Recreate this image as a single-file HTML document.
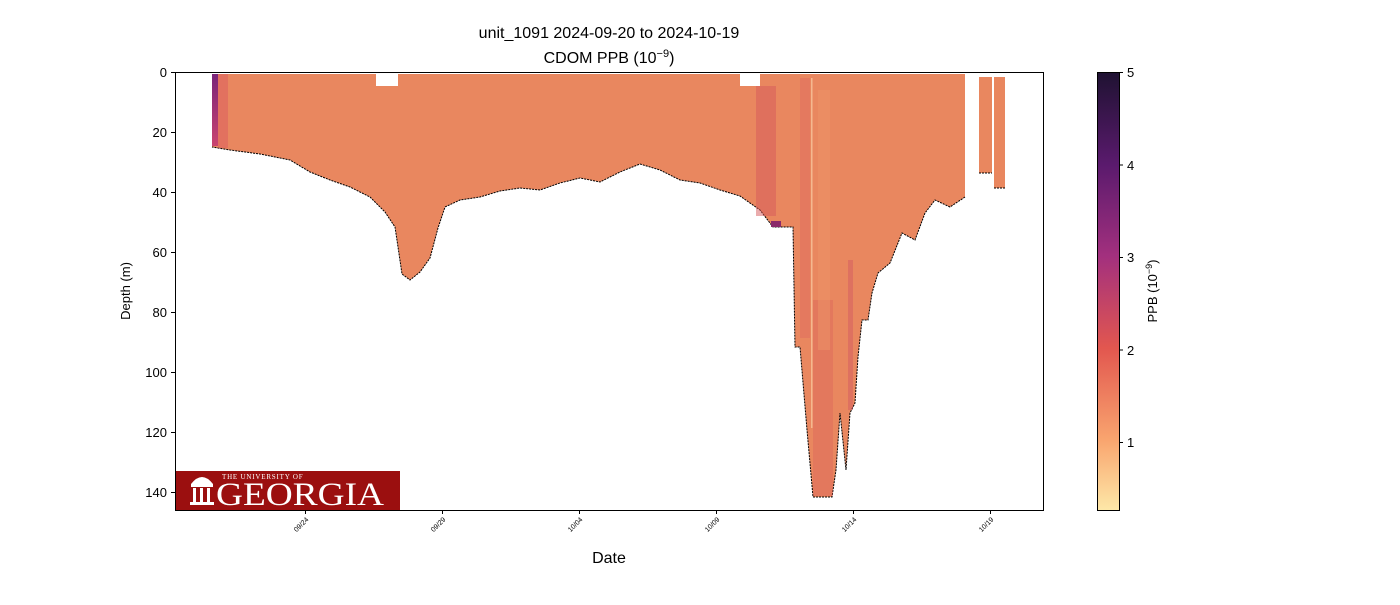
<!DOCTYPE html>
<html><head><meta charset="utf-8"><style>
body{margin:0;background:#fff;}
svg text{font-family:"Liberation Sans","DejaVu Sans",sans-serif;}
svg text.serif{font-family:"Liberation Serif","DejaVu Serif",serif;}
</style></head><body>
<svg width="1400" height="600" xmlns="http://www.w3.org/2000/svg">
<defs>
<linearGradient id="cb" x1="0" y1="0" x2="0" y2="1">
<stop offset="0" stop-color="#1f1232"/>
<stop offset="0.21" stop-color="#5a1a6d"/>
<stop offset="0.42" stop-color="#a3307e"/>
<stop offset="0.63" stop-color="#e2574f"/>
<stop offset="0.84" stop-color="#f9a56f"/>
<stop offset="1" stop-color="#fde8a8"/>
</linearGradient>
<linearGradient id="lc" x1="0" y1="0" x2="0" y2="1">
<stop offset="0" stop-color="#7a2479"/><stop offset="1" stop-color="#c9446f"/>
</linearGradient>
</defs>
<text x="609" y="38" font-size="16" text-anchor="middle">unit_1091 2024-09-20 to 2024-10-19</text>
<text x="609" y="63" font-size="16" text-anchor="middle">CDOM PPB (10<tspan dy="-6" font-size="11">−9</tspan><tspan dy="6">)</tspan></text>

<g>
<polygon fill="#e9875f" points="212,74 965,74 965,197 950,207 935,200 925,213 915,240 902,233 890,263 878,273 872,293 868,320 862,320 858,357 855,403 850,413 846,470 840,413 836,470 832,497 813,497 807,430 800,347 795,347 793,227 773,227 760,210 740,196 720,190 700,183 680,180 660,170 640,164 620,172 600,182 580,178 560,183 540,190 520,188 500,191 480,197 460,200 445,207 438,228 430,258 420,272 410,280 402,274 398,247 395,227 385,212 370,197 350,187 330,180 310,172 290,160 260,154 230,150 212,147"/>
<polyline fill="none" stroke="#000" stroke-width="1" stroke-dasharray="2,1" points="965,197 950,207 935,200 925,213 915,240 902,233 890,263 878,273 872,293 868,320 862,320 858,357 855,403 850,413 846,470 840,413 836,470 832,497 813,497 807,430 800,347 795,347 793,227 773,227 760,210 740,196 720,190 700,183 680,180 660,170 640,164 620,172 600,182 580,178 560,183 540,190 520,188 500,191 480,197 460,200 445,207 438,228 430,258 420,272 410,280 402,274 398,247 395,227 385,212 370,197 350,187 330,180 310,172 290,160 260,154 230,150 212,147"/>
<rect x="212" y="74" width="6" height="72" fill="url(#lc)"/>
<rect x="218" y="74" width="10" height="74" fill="#dc5c60" opacity="0.5"/>
<rect x="376" y="74" width="22" height="12" fill="#fff"/>
<rect x="740" y="74" width="20" height="12" fill="#fff"/>
<rect x="756" y="86" width="20" height="130" fill="#d65a5c" opacity="0.5"/>
<rect x="800" y="78" width="10" height="260" fill="#dc6460" opacity="0.4"/>
<rect x="813" y="300" width="20" height="196" fill="#d95d5c" opacity="0.35"/>
<rect x="811" y="78" width="1.5" height="350" fill="#f5b890"/>
<rect x="818" y="90" width="12" height="260" fill="#ee9468" opacity="0.5"/>
<rect x="848" y="260" width="5" height="150" fill="#cc4f62" opacity="0.4"/>
<rect x="771" y="221" width="10" height="6" fill="#8a2a6a"/>
<rect x="979" y="77" width="13" height="96" fill="#e9875f"/>
<rect x="994" y="77" width="11" height="111" fill="#e9875f"/>
<line x1="979" y1="173" x2="992" y2="173" stroke="#000" stroke-dasharray="2,1"/>
<line x1="994" y1="188" x2="1005" y2="188" stroke="#000" stroke-dasharray="2,1"/>
</g>

<rect x="175" y="471" width="225" height="39" fill="#9b0f0f"/>
<text class="serif" x="222" y="479" font-size="7" fill="#fff" letter-spacing="0.8">THE UNIVERSITY OF</text>
<text class="serif" x="216" y="505" font-size="33" fill="#fff" textLength="168" lengthAdjust="spacingAndGlyphs">GEORGIA</text>
<g fill="#fff"><rect x="191" y="484" width="22" height="3"/><rect x="193" y="488" width="3" height="14"/><rect x="200" y="488" width="3" height="14"/><rect x="207" y="488" width="3" height="14"/><rect x="190" y="502" width="24" height="3"/><path d="M191 484 Q202 470 213 484 Z"/></g>

<rect x="175.5" y="72.5" width="868" height="438" fill="none" stroke="#000" stroke-width="1"/>
<g font-size="13" text-anchor="end">
<g stroke="#000"><line x1="171" y1="72.5" x2="175" y2="72.5"/><line x1="171" y1="132.5" x2="175" y2="132.5"/><line x1="171" y1="192.5" x2="175" y2="192.5"/><line x1="171" y1="252.5" x2="175" y2="252.5"/><line x1="171" y1="312.5" x2="175" y2="312.5"/><line x1="171" y1="372.5" x2="175" y2="372.5"/><line x1="171" y1="432.5" x2="175" y2="432.5"/><line x1="171" y1="492.5" x2="175" y2="492.5"/></g>
<text x="167" y="77">0</text><text x="167" y="137">20</text><text x="167" y="197">40</text><text x="167" y="257">60</text><text x="167" y="317">80</text><text x="167" y="377">100</text><text x="167" y="437">120</text><text x="167" y="497">140</text>
</g>
<text transform="translate(130,291) rotate(-90)" font-size="13" text-anchor="middle">Depth (m)</text>
<g stroke="#000"><line x1="305.5" y1="510" x2="305.5" y2="514"/><line x1="442.5" y1="510" x2="442.5" y2="514"/><line x1="579.5" y1="510" x2="579.5" y2="514"/><line x1="716.5" y1="510" x2="716.5" y2="514"/><line x1="853.5" y1="510" x2="853.5" y2="514"/><line x1="990.5" y1="510" x2="990.5" y2="514"/></g>
<g font-size="7" text-anchor="end">
<text transform="translate(309,520) rotate(-45)">09/24</text>
<text transform="translate(446,520) rotate(-45)">09/29</text>
<text transform="translate(583,520) rotate(-45)">10/04</text>
<text transform="translate(720,520) rotate(-45)">10/09</text>
<text transform="translate(857,520) rotate(-45)">10/14</text>
<text transform="translate(994,520) rotate(-45)">10/19</text>
</g>
<text x="609" y="563" font-size="16" text-anchor="middle">Date</text>

<rect x="1097.5" y="72.5" width="22" height="438" fill="url(#cb)" stroke="#000" stroke-width="1"/>
<g stroke="#000"><line x1="1119" y1="72.5" x2="1123" y2="72.5"/><line x1="1119" y1="165" x2="1123" y2="165"/><line x1="1119" y1="257.5" x2="1123" y2="257.5"/><line x1="1119" y1="350" x2="1123" y2="350"/><line x1="1119" y1="442.5" x2="1123" y2="442.5"/></g>
<g font-size="13"><text x="1127" y="77">5</text><text x="1127" y="170">4</text><text x="1127" y="262">3</text><text x="1127" y="355">2</text><text x="1127" y="447">1</text></g>
<text transform="translate(1157,291) rotate(-90)" font-size="13" text-anchor="middle">PPB (10<tspan dy="-5" font-size="9">−9</tspan><tspan dy="5">)</tspan></text>
</svg>
</body></html>
